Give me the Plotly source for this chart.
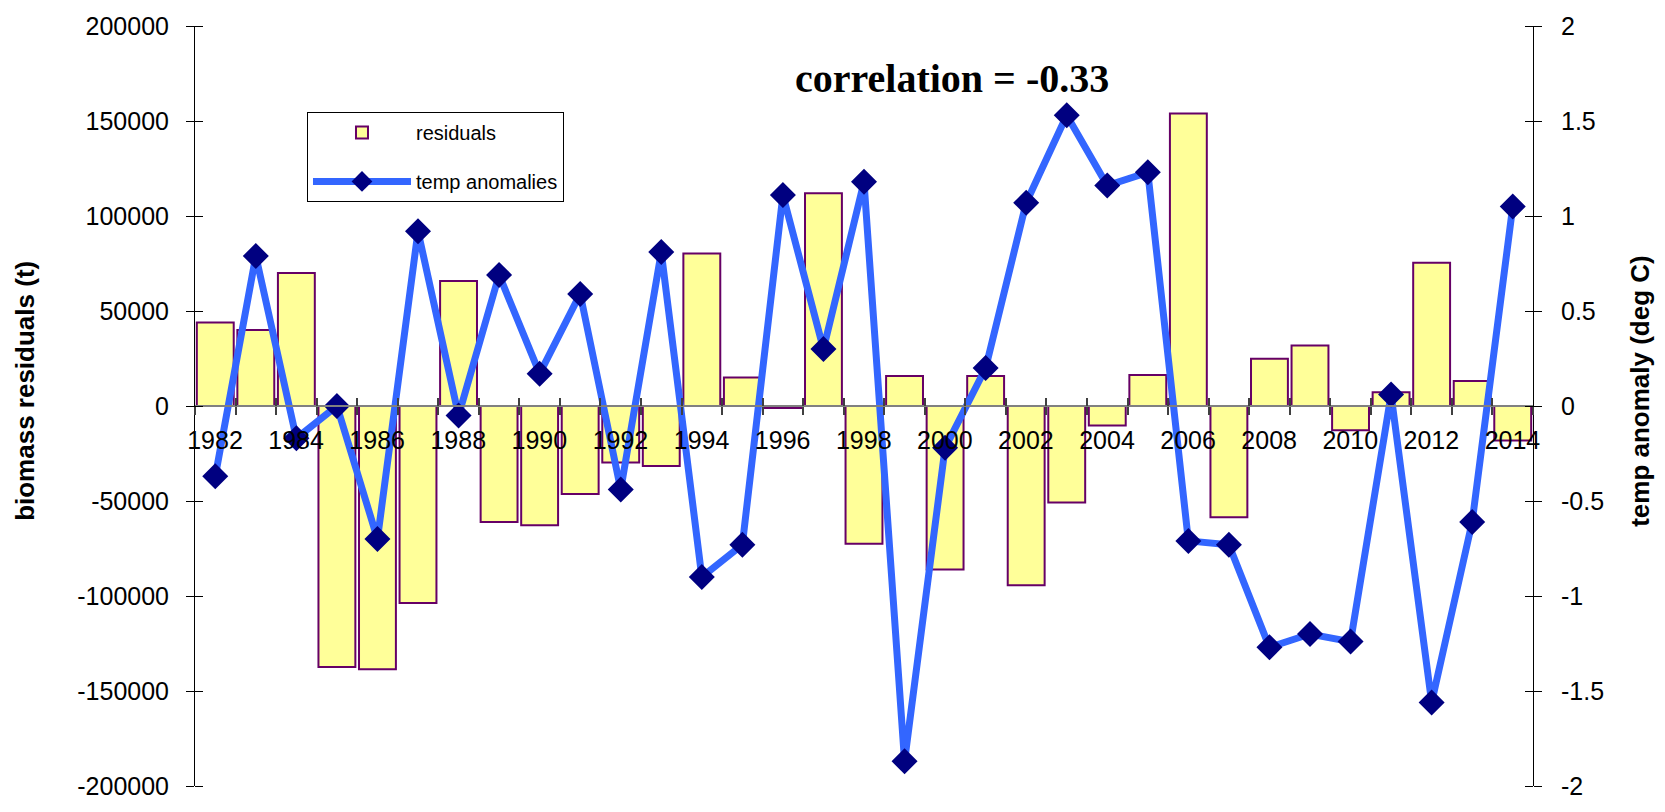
import plotly.graph_objects as go

# Annual series
years = list(range(1982, 2015))
residuals = [44000, 40000, 70000, -137400, -138500, -103700, 65800, -61000, -62800, -46300,
             -29700, -31600, 80200, 15000, -1100, 112000, -72500, 15800, -86100, 15800,
             -94400, -50800, -10200, 16300, 154000, -58600, 24900, 31800, -12800, 7200,
             75400, 13100, -18200]
temp_anom = [-0.37, 0.79, -0.17, 0.0, -0.70, 0.92, -0.05, 0.69, 0.17, 0.59,
             -0.44, 0.81, -0.90, -0.73, 1.11, 0.30, 1.18, -1.87, -0.22, 0.20,
             1.07, 1.53, 1.16, 1.23, -0.71, -0.73, -1.27, -1.20, -1.24, 0.06,
             -1.56, -0.61, 1.05]

# Axis ticks
left_ticks = [-200000, -150000, -100000, -50000, 0, 50000, 100000, 150000, 200000]
right_ticks = [-2, -1.5, -1, -0.5, 0, 0.5, 1, 1.5, 2]
boundaries = [y - 0.5 for y in years] + [years[-1] + 0.5]
# label every other year, placed on the left edge of its category and shifted to its centre
boundary_text = [str(y) if (y - years[0]) % 2 == 0 else "" for y in years] + [""]

FONT = "Liberation Sans, Arial, sans-serif"
xr = [years[0] - 0.5, years[-1] + 0.5]
TICKLEN = 8  # ticks cross each axis: outer major ticks plus inner ticks of the same length

fig = go.Figure()
fig.add_trace(go.Bar(
    x=years, y=residuals, name="residuals", xaxis="x", yaxis="y",
    marker=dict(color="#FFFF99", line=dict(color="#660066", width=2)),
    legendgroup="a",
))
fig.add_trace(go.Scatter(
    x=years, y=temp_anom, name="temp anomalies", xaxis="x2", yaxis="y2",
    mode="lines+markers",
    line=dict(color="#3366FF", width=7),
    marker=dict(symbol="diamond", size=20, color="#000080"),
    legendgroup="b",
))

tick_font = dict(family=FONT, size=25, color="black")

fig.update_layout(
    width=1665, height=812,
    margin=dict(l=195, r=132, t=23, b=15),
    paper_bgcolor="white", plot_bgcolor="white",
    bargap=0.09,
    showlegend=True,
    legend=dict(
        x=0.0837, y=0.887, xanchor="left", yanchor="top",
        bordercolor="black", borderwidth=1, bgcolor="white",
        font=dict(family=FONT, size=20, color="black"),
        tracegroupgap=20, itemwidth=98,
    ),
    xaxis=dict(
        range=xr, anchor="free", position=0.5,
        tickmode="array", tickvals=boundaries, ticktext=boundary_text,
        ticks="outside", ticklen=TICKLEN, tickcolor="#404040", tickwidth=1.5,
        ticklabelshift=20, ticklabelstandoff=4,
        showgrid=False, zeroline=False,
        showline=True, linecolor="#808080", linewidth=1.5,
        tickfont=tick_font,
    ),
    xaxis2=dict(
        range=xr, overlaying="x", anchor="free", position=0.5,
        tickmode="array", tickvals=boundaries, showticklabels=False,
        ticks="inside", ticklen=TICKLEN, tickcolor="#404040", tickwidth=1.5,
        showgrid=False, zeroline=False, showline=False,
    ),
    yaxis=dict(
        range=[-200000, 200000], tickmode="array", tickvals=left_ticks,
        ticktext=[str(v) for v in left_ticks],
        ticks="outside", ticklen=TICKLEN, tickcolor="black", tickwidth=1,
        minor=dict(tickmode="array", tickvals=left_ticks, ticks="inside",
                   ticklen=TICKLEN, tickcolor="black", tickwidth=1, showgrid=False),
        showline=True, linecolor="black", linewidth=1,
        showgrid=False, zeroline=False, tickfont=tick_font, ticklabelstandoff=12,
    ),
    yaxis2=dict(
        range=[-2, 2], overlaying="y", side="right", anchor="x",
        tickmode="array", tickvals=right_ticks, ticktext=[str(v) for v in right_ticks],
        ticks="outside", ticklen=TICKLEN, tickcolor="black", tickwidth=1,
        minor=dict(tickmode="array", tickvals=right_ticks, ticks="inside",
                   ticklen=TICKLEN, tickcolor="black", tickwidth=1, showgrid=False),
        showline=True, linecolor="black", linewidth=1,
        showgrid=False, zeroline=False, tickfont=tick_font, ticklabelstandoff=14,
    ),
    annotations=[
        dict(text="<b>biomass residuals (t)</b>", xref="paper", yref="paper",
             x=-0.127, y=0.52, xanchor="center", yanchor="middle",
             textangle=-90, showarrow=False,
             font=dict(family=FONT, size=26, color="black")),
        dict(text="<b>temp anomaly (deg C)</b>", xref="paper", yref="paper",
             x=1.080, y=0.52, xanchor="center", yanchor="middle",
             textangle=-90, showarrow=False,
             font=dict(family=FONT, size=26, color="black")),
        dict(text="<b>correlation = -0.33</b>", xref="paper", yref="paper",
             x=0.566, y=0.931, xanchor="center", yanchor="middle", showarrow=False,
             font=dict(family="Georgia, Liberation Serif, serif", size=40, color="black")),
    ],
)

fig.write_html("out.html")
